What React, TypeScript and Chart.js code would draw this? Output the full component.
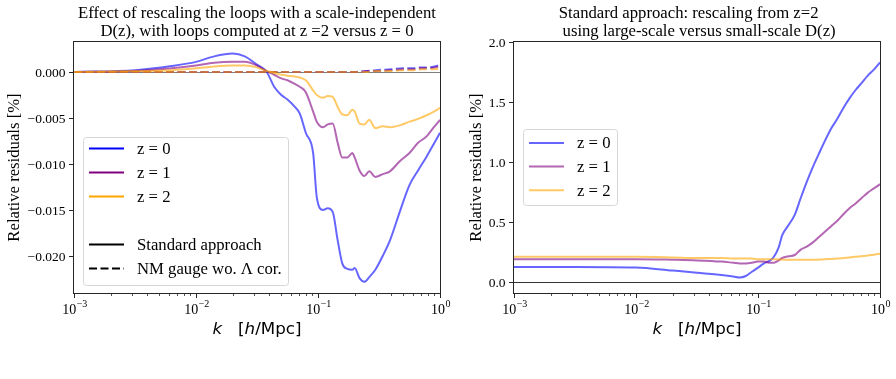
import React, { useEffect, useRef } from "react";
import { Chart, registerables } from "chart.js";

Chart.register(...registerables);

// ---------------- data ----------------
// Left panel: k grid [h/Mpc] and relative residuals [%]
const K_LEFT = [0.001, 0.00316, 0.00631, 0.01, 0.0141, 0.02, 0.0251, 0.0316, 0.038, 0.0437, 0.0501, 0.0562, 0.0646, 0.0708, 0.0794, 0.0912, 0.0977, 0.11, 0.12, 0.132, 0.145, 0.158, 0.174, 0.191, 0.2, 0.219, 0.24, 0.263, 0.295, 0.339, 0.389, 0.468, 0.562, 0.661, 0.776, 0.891, 1.0];
const LEFT_Z0 = [0, 0.0002, 0.00065, 0.0011, 0.0017, 0.002, 0.0017, 0.0008, 0.0, -0.0016, -0.0025, -0.003, -0.0038, -0.0045, -0.0066, -0.0088, -0.0136, -0.015, -0.0148, -0.0152, -0.0183, -0.0208, -0.0214, -0.0215, -0.0213, -0.0224, -0.0228, -0.0223, -0.0215, -0.02, -0.0183, -0.0152, -0.0123, -0.0107, -0.0092, -0.0078, -0.0066];
const LEFT_Z1 = [0, 0.0001, 0.0004, 0.0007, 0.001, 0.0011, 0.0011, 0.0007, 0.0001, -0.0003, -0.0007, -0.0009, -0.0013, -0.0016, -0.0022, -0.0043, -0.0054, -0.006, -0.0057, -0.0056, -0.0077, -0.0093, -0.0093, -0.0088, -0.0093, -0.0107, -0.0113, -0.0108, -0.0114, -0.0111, -0.0108, -0.0097, -0.0088, -0.0077, -0.007, -0.006, -0.0052];
const LEFT_Z2 = [0, 0.0001, 0.0002, 0.0004, 0.0006, 0.0007, 0.0007, 0.0005, 0.0001, -0.0001, -0.0003, -0.0004, -0.0005, -0.0006, -0.0009, -0.002, -0.0025, -0.0028, -0.0026, -0.0027, -0.0038, -0.0046, -0.0047, -0.0041, -0.0043, -0.0056, -0.0057, -0.0052, -0.0061, -0.0059, -0.006, -0.0058, -0.0054, -0.0051, -0.0047, -0.0043, -0.0039];

const K_DASH = [0.001, 0.01, 0.1, 0.15, 0.2, 0.25, 0.3, 0.4, 0.5, 0.6, 0.7, 0.8, 0.9, 1.0];
const DASH_Z0 = [0, 0, 0, 0, 0, 0.0001, 0.0002, 0.0003, 0.0004, 0.0004, 0.0005, 0.0005, 0.0006, 0.0008];
const DASH_Z1 = [0, 0, 0, 0, 0, 0.0001, 0.0001, 0.0002, 0.0003, 0.0003, 0.0004, 0.0004, 0.0005, 0.0006];
const DASH_Z2 = [0, 0, 0, 0, 0, 0, 0.0001, 0.0001, 0.0002, 0.0002, 0.0003, 0.0003, 0.0003, 0.0004];

// Right panel
const K_RIGHT = [0.001, 0.00316, 0.01, 0.02, 0.0316, 0.0501, 0.0631, 0.0708, 0.0794, 0.0891, 0.1, 0.112, 0.126, 0.135, 0.148, 0.158, 0.178, 0.2, 0.224, 0.251, 0.282, 0.316, 0.355, 0.398, 0.447, 0.501, 0.562, 0.631, 0.708, 0.794, 0.891, 1.0];
const RIGHT_Z0 = [0.125, 0.125, 0.12, 0.095, 0.078, 0.058, 0.045, 0.038, 0.05, 0.085, 0.12, 0.155, 0.18, 0.21, 0.29, 0.39, 0.475, 0.56, 0.7, 0.835, 0.96, 1.07, 1.18, 1.28, 1.36, 1.45, 1.53, 1.6, 1.66, 1.72, 1.77, 1.83];
const RIGHT_Z1 = [0.19, 0.19, 0.19, 0.185, 0.18, 0.17, 0.16, 0.155, 0.155, 0.16, 0.17, 0.17, 0.16, 0.16, 0.18, 0.2, 0.215, 0.225, 0.27, 0.295, 0.33, 0.375, 0.42, 0.465, 0.51, 0.565, 0.615, 0.655, 0.7, 0.745, 0.78, 0.815];
const RIGHT_Z2 = [0.21, 0.21, 0.21, 0.205, 0.2, 0.2, 0.195, 0.195, 0.195, 0.195, 0.19, 0.19, 0.19, 0.19, 0.188, 0.187, 0.185, 0.185, 0.185, 0.185, 0.185, 0.187, 0.19, 0.192, 0.195, 0.2, 0.205, 0.21, 0.215, 0.22, 0.228, 0.235];

// ticks & labels
const X_TICK_EXPONENTS = [-3, -2, -1, 0];
const X_TICK_EXP_LABELS = ["\u22123", "\u22122", "\u22121", "0"];
const LEFT_Y_TICKS = [0, -0.005, -0.01, -0.015, -0.02];
const LEFT_Y_TICK_LABELS = ["0.000", "\u22120.005", "\u22120.010", "\u22120.015", "\u22120.020"];
const RIGHT_Y_TICKS = [0, 0.5, 1.0, 1.5, 2.0];
const RIGHT_Y_TICK_LABELS = ["0.0", "0.5", "1.0", "1.5", "2.0"];
const SERIES_LABELS = ["z = 0", "z = 1", "z = 2"];
const STYLE_LABELS = ["Standard approach", "NM gauge wo. \u039B cor."];
const LEFT_TITLE = ["Effect of rescaling the loops with a scale-independent", "D(z), with loops computed at z =2 versus z = 0"];
const RIGHT_TITLE = ["Standard approach: rescaling from z=2    ", " using large-scale versus small-scale D(z)"];
const Y_LABEL = "Relative residuals [%]";
const ZERO_LEVEL = 0;

// ---------------- styles ----------------
const SERIF = "'Liberation Serif', 'Times New Roman', Times, serif";
const SANS = "'DejaVu Sans', 'Liberation Sans', sans-serif";
const BLUE_A = "rgba(0,0,255,0.6)";
const PURPLE_A = "rgba(128,0,128,0.6)";
const ORANGE_A = "rgba(255,165,0,0.6)";
const DASH = [8, 3.5];

const CH = 379;
const TOP = 42;
const BOTTOM = 293;

function pts(xs: number[], ys: number[]) {
  return xs.map((x, i) => ({ x, y: ys[i] }));
}

function ds(xs: number[], ys: number[], color: string, dash: number[], order: number) {
  return {
    data: pts(xs, ys),
    borderColor: color,
    borderWidth: 2,
    borderDash: dash,
    pointRadius: 0,
    fill: false,
    cubicInterpolationMode: "monotone",
    order,
  };
}

type LegendItem = { color: string; dash: number[]; label: string } | null;
type Deco = {
  title: string[];
  yTicks: number[];
  yTickLabels: string[];
  yLabelX: number;
  zeroAlpha: number;
  legend: { x: number; y: number; w: number; h: number; hx0: number; hx1: number; tx: number; y0: number; dy: number; items: LegendItem[] };
};

function decoPlugin(d: Deco) {
  return {
    id: "deco",
    beforeDatasetsDraw(chart: any) {
      // horizontal reference line at zero (axhline)
      const ctx: CanvasRenderingContext2D = chart.ctx;
      const a = chart.chartArea;
      const py = Math.round(chart.scales.y.getPixelForValue(ZERO_LEVEL)) + 0.5;
      ctx.save();
      ctx.strokeStyle = `rgba(0,0,0,${d.zeroAlpha})`;
      ctx.lineWidth = 1;
      ctx.beginPath();
      ctx.moveTo(a.left, py);
      ctx.lineTo(a.right, py);
      ctx.stroke();
      ctx.restore();
    },
    afterDraw(chart: any) {
      const ctx: CanvasRenderingContext2D = chart.ctx;
      const a = chart.chartArea;
      const xs = chart.scales.x;
      const ys = chart.scales.y;
      const cx = (a.left + a.right) / 2;
      ctx.save();

      // legend
      const L = d.legend;
      ctx.beginPath();
      const r = 3;
      ctx.moveTo(L.x + r, L.y);
      ctx.lineTo(L.x + L.w - r, L.y);
      ctx.arcTo(L.x + L.w, L.y, L.x + L.w, L.y + r, r);
      ctx.lineTo(L.x + L.w, L.y + L.h - r);
      ctx.arcTo(L.x + L.w, L.y + L.h, L.x + L.w - r, L.y + L.h, r);
      ctx.lineTo(L.x + r, L.y + L.h);
      ctx.arcTo(L.x, L.y + L.h, L.x, L.y + L.h - r, r);
      ctx.lineTo(L.x, L.y + r);
      ctx.arcTo(L.x, L.y, L.x + r, L.y, r);
      ctx.closePath();
      ctx.fillStyle = "rgba(255,255,255,0.8)";
      ctx.fill();
      ctx.strokeStyle = "#d6d6d6";
      ctx.lineWidth = 1;
      ctx.stroke();
      ctx.font = `16.7px ${SERIF}`;
      ctx.textAlign = "left";
      ctx.textBaseline = "middle";
      L.items.forEach((it, i) => {
        if (!it) return;
        const y = L.y0 + i * L.dy;
        ctx.beginPath();
        ctx.setLineDash(it.dash);
        ctx.strokeStyle = it.color;
        ctx.lineWidth = 2;
        ctx.moveTo(L.hx0, y);
        ctx.lineTo(L.hx1, y);
        ctx.stroke();
        ctx.setLineDash([]);
        ctx.fillStyle = "#000";
        ctx.fillText(it.label, L.tx, y + 1);
      });

      // frame
      ctx.strokeStyle = "#262626";
      ctx.lineWidth = 1;
      ctx.strokeRect(Math.round(a.left) - 0.5, Math.round(a.top) - 0.5, Math.round(a.right - a.left) + 1, Math.round(a.bottom - a.top) + 1);

      // y ticks + labels
      ctx.font = `13.5px ${SERIF}`;
      ctx.textAlign = "right";
      ctx.textBaseline = "middle";
      ctx.fillStyle = "#000";
      d.yTicks.forEach((v, i) => {
        const py = Math.round(ys.getPixelForValue(v)) + 0.5;
        ctx.beginPath();
        ctx.moveTo(a.left - 5, py);
        ctx.lineTo(a.left, py);
        ctx.stroke();
        ctx.fillText(d.yTickLabels[i], a.left - 8.5, py + 0.5);
      });

      // x ticks (major + minor)
      X_TICK_EXPONENTS.forEach((e, i) => {
        const base = Math.pow(10, e);
        const px = Math.round(xs.getPixelForValue(base)) + 0.5;
        ctx.lineWidth = 1;
        ctx.beginPath();
        ctx.moveTo(px, a.bottom);
        ctx.lineTo(px, a.bottom + 5);
        ctx.stroke();
        if (e < 0) {
          ctx.lineWidth = 0.8;
          for (let m = 2; m <= 9; m++) {
            const mx = Math.round(xs.getPixelForValue(m * base)) + 0.5;
            ctx.beginPath();
            ctx.moveTo(mx, a.bottom);
            ctx.lineTo(mx, a.bottom + 3);
            ctx.stroke();
          }
        }
        // label 10^e
        ctx.textAlign = "left";
        ctx.textBaseline = "alphabetic";
        ctx.font = `14px ${SERIF}`;
        const w10 = ctx.measureText("10").width;
        ctx.font = `10px ${SERIF}`;
        const we = ctx.measureText(X_TICK_EXP_LABELS[i]).width;
        const x0 = px - (w10 + we) / 2;
        ctx.font = `14px ${SERIF}`;
        ctx.fillText("10", x0, a.bottom + 21);
        ctx.font = `10px ${SERIF}`;
        ctx.fillText(X_TICK_EXP_LABELS[i], x0 + w10 + 0.5, a.bottom + 14);
      });

      // x label: k   [h/Mpc]
      const parts = [
        { t: "k", f: `italic 16.7px ${SANS}` },
        { t: "   [", f: `16.7px ${SANS}` },
        { t: "h", f: `italic 16.7px ${SANS}` },
        { t: "/Mpc]", f: `16.7px ${SANS}` },
      ];
      let total = 0;
      parts.forEach((p) => {
        ctx.font = p.f;
        total += ctx.measureText(p.t).width;
      });
      let xx = cx - total / 2;
      ctx.textAlign = "left";
      ctx.textBaseline = "alphabetic";
      parts.forEach((p) => {
        ctx.font = p.f;
        ctx.fillText(p.t, xx, a.bottom + 41);
        xx += ctx.measureText(p.t).width;
      });

      // y label
      ctx.save();
      ctx.translate(d.yLabelX, (a.top + a.bottom) / 2);
      ctx.rotate(-Math.PI / 2);
      ctx.font = `16.7px ${SERIF}`;
      ctx.textAlign = "center";
      ctx.textBaseline = "middle";
      ctx.fillText(Y_LABEL, 0, 0);
      ctx.restore();

      // title
      ctx.font = `16.7px ${SERIF}`;
      ctx.textAlign = "center";
      ctx.textBaseline = "alphabetic";
      d.title.forEach((line, i) => {
        ctx.fillText(line, cx, 18 + i * 18);
      });

      ctx.restore();
    },
  };
}

function makeOptions(yMin: number, yMax: number, canvasW: number, left: number, right: number) {
  return {
    responsive: false,
    animation: false,
    devicePixelRatio: 1,
    layout: { padding: { left: 0, right: canvasW - right, top: TOP, bottom: 0 } },
    plugins: { legend: { display: false }, tooltip: { enabled: false }, title: { display: false } },
    events: [],
    scales: {
      x: {
        type: "logarithmic",
        min: 0.001,
        max: 1,
        grid: { display: false },
        border: { display: false },
        ticks: { display: false },
        afterFit: (s: any) => {
          s.height = CH - BOTTOM;
        },
      },
      y: {
        type: "linear",
        min: yMin,
        max: yMax,
        grid: { display: false },
        border: { display: false },
        ticks: { display: false },
        afterFit: (s: any) => {
          s.width = left;
        },
      },
    },
  };
}

const LEFT_CW = 470;
const RIGHT_CW = 448;

function leftConfig(): any {
  return {
    type: "line",
    data: {
      datasets: [
        ds(K_LEFT, LEFT_Z0, BLUE_A, [], 9),
        ds(K_DASH, DASH_Z0, BLUE_A, DASH, 8),
        ds(K_LEFT, LEFT_Z1, PURPLE_A, [], 7),
        ds(K_DASH, DASH_Z1, PURPLE_A, DASH, 6),
        ds(K_LEFT, LEFT_Z2, ORANGE_A, [], 5),
        ds(K_DASH, DASH_Z2, ORANGE_A, DASH, 4),
      ],
    },
    options: makeOptions(-0.02402, 0.00326, LEFT_CW, 74, 440),
    plugins: [
      decoPlugin({
        title: LEFT_TITLE,
        yTicks: LEFT_Y_TICKS,
        yTickLabels: LEFT_Y_TICK_LABELS,
        yLabelX: 15,
        zeroAlpha: 0.5,
        legend: {
          x: 83.5,
          y: 137.5,
          w: 205,
          h: 148,
          hx0: 89,
          hx1: 124,
          tx: 137,
          y0: 148.5,
          dy: 24,
          items: [
            { color: "blue", dash: [], label: SERIES_LABELS[0] },
            { color: "purple", dash: [], label: SERIES_LABELS[1] },
            { color: "orange", dash: [], label: SERIES_LABELS[2] },
            null,
            { color: "black", dash: [], label: STYLE_LABELS[0] },
            { color: "black", dash: DASH, label: STYLE_LABELS[1] },
          ],
        },
      }),
    ],
  };
}

function rightConfig(): any {
  return {
    type: "line",
    data: {
      datasets: [
        ds(K_RIGHT, RIGHT_Z0, BLUE_A, [], 9),
        ds(K_RIGHT, RIGHT_Z1, PURPLE_A, [], 7),
        ds(K_RIGHT, RIGHT_Z2, ORANGE_A, [], 5),
      ],
    },
    options: makeOptions(-0.0917, 2.0, RIGHT_CW, 66, 432),
    plugins: [
      decoPlugin({
        title: RIGHT_TITLE,
        yTicks: RIGHT_Y_TICKS,
        yTickLabels: RIGHT_Y_TICK_LABELS,
        yLabelX: 28.5,
        zeroAlpha: 0.8,
        legend: {
          x: 75.5,
          y: 129.5,
          w: 94,
          h: 76,
          hx0: 81,
          hx1: 116,
          tx: 129,
          y0: 143,
          dy: 23.6,
          items: [
            { color: BLUE_A, dash: [], label: SERIES_LABELS[0] },
            { color: PURPLE_A, dash: [], label: SERIES_LABELS[1] },
            { color: ORANGE_A, dash: [], label: SERIES_LABELS[2] },
          ],
        },
      }),
    ],
  };
}

export default function App() {
  const leftRef = useRef<HTMLCanvasElement>(null);
  const rightRef = useRef<HTMLCanvasElement>(null);

  useEffect(() => {
    const charts: Chart[] = [];
    if (leftRef.current) charts.push(new Chart(leftRef.current, leftConfig()));
    if (rightRef.current) charts.push(new Chart(rightRef.current, rightConfig()));
    return () => {
      charts.forEach((c) => c.destroy());
    };
  }, []);

  return (
    <div style={{ position: "absolute", left: 0, top: 0, width: 896, height: 379, background: "#fff", overflow: "hidden" }}>
      <canvas ref={rightRef} width={RIGHT_CW} height={CH} style={{ position: "absolute", left: 448, top: 0, width: RIGHT_CW, height: CH }} />
      <canvas ref={leftRef} width={LEFT_CW} height={CH} style={{ position: "absolute", left: 0, top: 0, width: LEFT_CW, height: CH }} />
    </div>
  );
}
